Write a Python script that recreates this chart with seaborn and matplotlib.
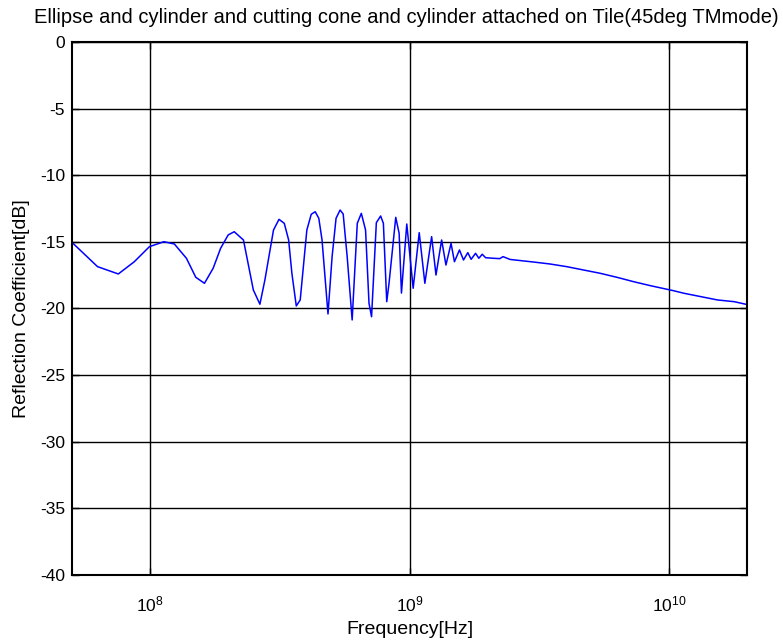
import numpy as np
import pandas as pd
import matplotlib
matplotlib.use("Agg")
import matplotlib.pyplot as plt
import seaborn as sns

# frequency [Hz] and reflection coefficient [dB]
freq_hz = [
    5.01e7, 6.27e7, 7.54e7, 8.69e7, 9.94e7, 1.13e8, 1.24e8, 1.38e8, 1.50e8, 1.62e8,
    1.75e8, 1.87e8, 2.00e8, 2.11e8, 2.29e8, 2.50e8, 2.65e8, 2.77e8, 2.99e8, 3.14e8,
    3.29e8, 3.42e8, 3.52e8, 3.66e8, 3.79e8, 4.02e8, 4.18e8, 4.33e8, 4.47e8, 4.60e8,
    4.85e8, 5.03e8, 5.21e8, 5.40e8, 5.55e8, 5.75e8, 6.01e8, 6.29e8, 6.52e8, 6.77e8,
    6.98e8, 7.14e8, 7.45e8, 7.74e8, 7.93e8, 8.17e8, 8.34e8, 8.85e8, 9.12e8, 9.31e8,
    9.76e8, 1.033e9, 1.090e9, 1.146e9, 1.217e9, 1.265e9, 1.330e9, 1.382e9, 1.446e9, 1.490e9,
    1.558e9, 1.615e9, 1.678e9, 1.728e9, 1.797e9, 1.851e9, 1.907e9, 1.965e9, 2.098e9, 2.227e9,
    2.294e9, 2.441e9, 2.997e9, 3.478e9, 4.035e9, 4.683e9, 5.436e9, 6.304e9, 7.315e9, 8.494e9,
    1.039e10, 1.144e10, 1.327e10, 1.539e10, 1.786e10, 2.04e10,
]
refl_db = [
    -15.06, -16.86, -17.41, -16.49, -15.36, -14.99, -15.16, -16.23, -17.66, -18.11,
    -16.98, -15.48, -14.48, -14.24, -14.86, -18.61, -19.68, -17.86, -14.11, -13.31,
    -13.61, -14.86, -17.36, -19.81, -19.36, -14.11, -12.93, -12.74, -13.23, -14.86,
    -20.41, -16.11, -13.23, -12.61, -12.91, -16.11, -20.86, -13.61, -12.86, -14.11,
    -19.61, -20.62, -13.56, -13.06, -13.61, -19.49, -18.09, -13.16, -14.36, -18.84,
    -13.66, -18.48, -14.31, -18.11, -14.61, -17.49, -14.86, -16.74, -15.11, -16.49,
    -15.61, -16.36, -15.81, -16.31, -15.86, -16.23, -15.93, -16.19, -16.23, -16.26,
    -16.11, -16.32, -16.51, -16.66, -16.86, -17.11, -17.36, -17.66, -17.99, -18.29,
    -18.66, -18.86, -19.11, -19.36, -19.49, -19.74,
]
y_ticks = [0, -5, -10, -15, -20, -25, -30, -35, -40]
x_ticks = [1e8, 1e9, 1e10]

df = pd.DataFrame({"freq": freq_hz, "refl": refl_db})

sns.set_style("ticks")
plt.rcParams["font.family"] = ["Liberation Sans", "DejaVu Sans"]
plt.rcParams["mathtext.fontset"] = "custom"
plt.rcParams["mathtext.rm"] = "Liberation Sans"
plt.rcParams["mathtext.it"] = "Liberation Sans"
plt.rcParams["text.color"] = "black"
plt.rcParams["axes.labelcolor"] = "black"

fig = plt.figure(figsize=(7.83, 6.42), dpi=100)
ax = fig.add_axes([0.092, 0.1044, 0.862, 0.8302])

sns.lineplot(data=df, x="freq", y="refl", color="#0000ff", linewidth=1.1,
             estimator=None, sort=False, ax=ax)

ax.set_xscale("log")
ax.set_xlim(5e7, 2e10)
ax.set_ylim(-40, 0)
ax.set_xticks(x_ticks)
ax.xaxis.set_minor_locator(matplotlib.ticker.NullLocator())
ax.set_yticks(y_ticks)
ax.set_yticklabels([str(v) for v in y_ticks])

ax.grid(True, which="major", color="black", linestyle="-", linewidth=1.0)
for s in ax.spines.values():
    s.set_visible(True)
    s.set_color("black")
    s.set_linewidth(1.5)
ax.tick_params(direction="in", length=5, width=1, labelsize=12.5, colors="black",
               labelcolor="black", top=True, right=True, pad=5)
ax.tick_params(axis="x", pad=14)

ax.set_xlabel("Frequency[Hz]", fontsize=14, labelpad=5, color="black")
ax.set_ylabel("Reflection Coefficient[dB]", fontsize=14, labelpad=7, color="black")
ax.set_title("Ellipse and cylinder and cutting cone and cylinder attached on Tile(45deg TMmode)",
             fontsize=14.5, pad=14, color="black", x=0.495)

fig.savefig("out.png", dpi=100, facecolor="white")
